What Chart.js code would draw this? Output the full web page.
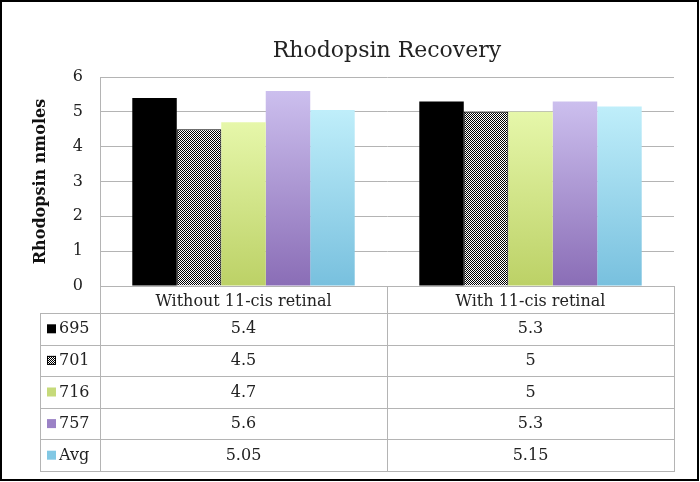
<!DOCTYPE html>
<html>
<head>
<meta charset="utf-8">
<script src="https://cdn.jsdelivr.net/npm/chart.js@4.4.1/dist/chart.umd.min.js"></script>
<style>
  html, body { margin: 0; padding: 0; background: #fff; }
  canvas { display: block; }
</style>
</head>
<body>
<canvas id="chart" width="700" height="482"></canvas>
<script>
const categories = ['Without 11-cis retinal', 'With 11-cis retinal'];
const seriesNames = ['695', '701', '716', '757', 'Avg'];
const values695 = [5.4, 5.3];
const values701 = [4.5, 5];
const values716 = [4.7, 5];
const values757 = [5.6, 5.3];
const valuesAvg = [5.05, 5.15];
const yTicks = [0, 1, 2, 3, 4, 5, 6];

const serif = "'DejaVu Serif', 'Liberation Serif', serif";
const lineGrey = '#b4b4b4';

const canvas = document.getElementById('chart');
const ctx2d = canvas.getContext('2d');

// fine black/white checker for series 701
const pc = document.createElement('canvas');
pc.width = 2; pc.height = 2;
const pctx = pc.getContext('2d');
pctx.fillStyle = '#ffffff'; pctx.fillRect(0, 0, 2, 2);
pctx.fillStyle = '#000000'; pctx.fillRect(0, 0, 1, 1); pctx.fillRect(1, 1, 1, 1);
const checker = ctx2d.createPattern(pc, 'repeat');

// vertical gradient per bar, light at the top, darker at the base
function barGradient(topCol, bottomCol) {
    return function(c) {
        const chart = c.chart;
        if (!chart.chartArea || c.parsed === undefined) return bottomCol;
        const y = chart.scales.y;
        const top = y.getPixelForValue(c.parsed.y);
        const base = y.getPixelForValue(0);
        if (!isFinite(top) || top === base) return bottomCol;
        const g = chart.ctx.createLinearGradient(0, top, 0, base);
        g.addColorStop(0, topCol);
        g.addColorStop(1, bottomCol);
        return g;
    };
}

const keyColors = ['#000000', checker, '#c6da7a', '#9b82c6', '#82c8e4'];

const tablePlugin = {
    id: 'dataTable',
    afterDraw(chart) {
        const ctx = chart.ctx;
        const x = chart.scales.x;
        const area = chart.chartArea;
        const colW = (area.right - area.left) / categories.length;
        const headTop = area.bottom;
        const headBottom = 313;
        const rowH = 31.6;
        const labelLeft = 40;
        const tableBottom = headBottom + rowH * seriesNames.length;

        ctx.save();
        ctx.strokeStyle = lineGrey;
        ctx.lineWidth = 1;
        ctx.beginPath();
        // header top
        ctx.moveTo(area.left, headTop + 0.5); ctx.lineTo(area.right, headTop + 0.5);
        // row lines
        for (let i = 0; i <= seriesNames.length; i++) {
            const yy = Math.round(headBottom + rowH * i) + 0.5;
            ctx.moveTo(labelLeft, yy); ctx.lineTo(area.right, yy);
        }
        // verticals
        ctx.moveTo(labelLeft + 0.5, headBottom); ctx.lineTo(labelLeft + 0.5, tableBottom + 1);
        for (let i = 0; i <= categories.length; i++) {
            const xx = Math.round(area.left + colW * i) + 0.5;
            ctx.moveTo(xx, i === 0 ? area.top : headTop); ctx.lineTo(xx, tableBottom + 1);
        }
        ctx.stroke();

        // rows
        const data = chart.data.datasets;
        ctx.font = '16px ' + serif;
        ctx.textBaseline = 'middle';
        data.forEach((ds, r) => {
            const cy = headBottom + rowH * r + rowH / 2 + 0.5;
            // key square
            ctx.fillStyle = keyColors[r];
            ctx.fillRect(47, cy - 5, 9, 9);
            if (r === 1) {
                ctx.strokeStyle = '#000';
                ctx.strokeRect(47.5, cy - 4.5, 8, 8);
            }
            ctx.fillStyle = '#222';
            ctx.textAlign = 'left';
            ctx.fillText(ds.label, 59, cy);
            ctx.textAlign = 'center';
            ds.data.forEach((v, i) => {
                ctx.fillText(String(v), x.getPixelForValue(i), cy);
            });
        });

        // outer frame
        ctx.strokeStyle = '#000';
        ctx.lineWidth = 2;
        ctx.strokeRect(1, 1, chart.width - 3, chart.height - 3);
        ctx.restore();
    }
};

new Chart(canvas, {
    type: 'bar',
    data: {
        labels: categories,
        datasets: [
            { label: seriesNames[0], data: values695, backgroundColor: '#000000' },
            { label: seriesNames[1], data: values701, backgroundColor: checker,
              borderColor: '#000000', borderWidth: { top: 1, left: 1, right: 1, bottom: 0 } },
            { label: seriesNames[2], data: values716, backgroundColor: barGradient('#e6f7aa', '#bcd166') },
            { label: seriesNames[3], data: values757, backgroundColor: barGradient('#ccbfee', '#8a6db6') },
            { label: seriesNames[4], data: valuesAvg, backgroundColor: barGradient('#bfeefa', '#78c0de') }
        ]
    },
    options: {
        responsive: false,
        animation: false,
        layout: { padding: { left: 0, right: 26, top: 0, bottom: 0 } },
        datasets: {
            bar: { barPercentage: 1, categoryPercentage: 0.775 }
        },
        plugins: {
            legend: { display: false },
            tooltip: { enabled: false },
            title: {
                display: true,
                text: 'Rhodopsin Recovery',
                fullSize: false,
                color: '#222',
                font: { family: serif, size: 22, weight: 'normal', lineHeight: 1.2 },
                padding: { top: 38, bottom: 12.6 }
            }
        },
        scales: {
            x: {
                grid: { display: false },
                border: { display: false },
                ticks: {
                    color: '#222',
                    font: { family: serif, size: 16 },
                    padding: -2,
                    maxRotation: 0,
                    autoSkip: false
                },
                afterFit(scale) { scale.height = 196; }
            },
            y: {
                min: 0,
                max: 6,
                afterBuildTicks(scale) { scale.ticks = yTicks.map(v => ({ value: v })); },
                grid: { color: lineGrey, drawTicks: false },
                border: { color: lineGrey },
                ticks: {
                    color: '#222',
                    font: { family: serif, size: 16 },
                    padding: 17
                },
                title: {
                    display: true,
                    text: 'Rhodopsin nmoles',
                    color: '#111',
                    font: { family: serif, size: 16, weight: 'bold', lineHeight: 1.2 },
                    padding: { top: 31, bottom: 0 }
                },
                afterFit(scale) { scale.width = 100; }
            }
        }
    },
    plugins: [tablePlugin]
});
</script>
</body>
</html>
